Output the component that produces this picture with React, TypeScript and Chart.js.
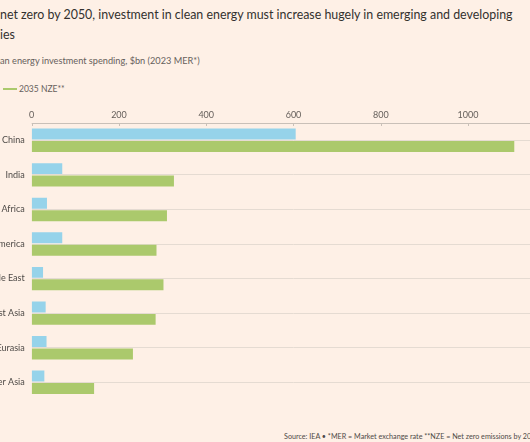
import React, { useEffect, useRef } from "react";
import { Chart, registerables } from "chart.js";
Chart.register(...registerables);

const categories = ["China", "India", "Africa", "Latin America", "Middle East", "Southeast Asia", "Eurasia", "Other Asia"];
const series2023 = [605, 70, 35, 70, 26, 32, 34, 29];
const series2035 = [1106, 326, 310, 286, 302, 284, 232, 143];
const seriesLabels = ["2023", "2035 NZE**"];
const xMin = 0;
const xMax = 1200;
const xStep = 200;

const BG = "#fef0e6";
const BLUE = "#96d3ea";
const GREEN = "#abc96c";
const TEXT = "#66605c";
const FONT = "Lato, 'Open Sans', sans-serif";
const HIDDEN_LEFT = 100;
const CANVAS_W = 700;
const CANVAS_H = 312;

const axisPlugin = {
  id: "topAxisLine",
  afterDraw(chart: any) {
    const { ctx, chartArea, scales } = chart;
    const x = scales.x;
    ctx.save();
    ctx.strokeStyle = "#c9c0b8";
    ctx.lineWidth = 1.2;
    ctx.beginPath();
    ctx.moveTo(chartArea.left, chartArea.top + 0.5);
    ctx.lineTo(chartArea.right, chartArea.top + 0.5);
    ctx.stroke();
    ctx.lineWidth = 1;
    x.ticks.forEach((t: any) => {
      const px = Math.round(x.getPixelForValue(t.value)) + 0.5;
      ctx.beginPath();
      ctx.moveTo(px, chartArea.top);
      ctx.lineTo(px, chartArea.top + 3);
      ctx.stroke();
    });
    ctx.restore();
  },
};

export default function App() {
  const ref = useRef<HTMLCanvasElement>(null);
  useEffect(() => {
    document.body.style.background = BG;
    const chart = new Chart(ref.current!, {
      type: "bar",
      data: {
        labels: categories,
        datasets: [
          { label: seriesLabels[0], data: series2023, backgroundColor: BLUE, barPercentage: 0.88, categoryPercentage: 0.72 },
          { label: seriesLabels[1], data: series2035, backgroundColor: GREEN, barPercentage: 0.88, categoryPercentage: 0.72 },
        ],
      },
      options: {
        indexAxis: "y",
        animation: false,
        responsive: false,
        devicePixelRatio: 1,
        layout: { padding: { left: 0, right: CANVAS_W - (HIDDEN_LEFT + 31.7 + 523.6), top: 0, bottom: 0 } },
        plugins: { legend: { display: false }, tooltip: { enabled: false } },
        scales: {
          x: {
            position: "top",
            min: xMin,
            max: xMax,
            ticks: { stepSize: xStep, padding: 3, color: TEXT, font: { family: FONT, size: 9 }, callback: (v: any) => String(v) },
            grid: { display: false, drawTicks: false, tickLength: 0 },
            border: { display: false },
            afterFit: (s: any) => { s.height = 23; },
          },
          y: {
            ticks: { padding: 7, color: "#4e4a47", font: { family: FONT, size: 9 } },
            grid: { color: "#e5dbd2", offset: false, drawTicks: false, tickLength: 0, lineWidth: 1 },
            border: { display: false },
            afterFit: (s: any) => { s.width = HIDDEN_LEFT + 31.7; },
          },
        },
      },
      plugins: [axisPlugin],
    });
    return () => chart.destroy();
  }, []);

  const hidden = (t: string) => (
    <span style={{ position: "absolute", right: "100%", whiteSpace: "pre" }}>{t}</span>
  );

  return (
    <div style={{ position: "fixed", left: 0, top: 0, width: 530, height: 442, overflow: "hidden", background: BG, fontFamily: FONT }}>
      <div style={{ position: "absolute", left: 0, top: 5, fontSize: 12.4, lineHeight: "20px", color: "#33302e", whiteSpace: "nowrap" }}>
        <div style={{ position: "relative" }}>{hidden("To reach ")}net zero by 2050, investment in clean energy must increase hugely in emerging and developing</div>
        <div style={{ position: "relative" }}>{hidden("econom")}ies</div>
      </div>
      <div style={{ position: "absolute", left: 0, top: 54, fontSize: 9.2, lineHeight: "14px", color: TEXT, whiteSpace: "nowrap" }}>
        <div style={{ position: "relative" }}>{hidden("Cle")}an energy investment spending, $bn (2023 MER*)</div>
      </div>
      <div style={{ position: "absolute", left: 3, top: 83, fontSize: 8.5, lineHeight: "12px", color: TEXT, whiteSpace: "nowrap", display: "flex", alignItems: "center" }}>
        <span style={{ position: "absolute", right: "100%", display: "flex", alignItems: "center", marginRight: 10 }}>
          <span style={{ display: "inline-block", width: 14, height: 2.5, background: BLUE, marginRight: 2 }} />
          <span>{seriesLabels[0]}</span>
        </span>
        <span style={{ display: "inline-block", width: 14, height: 2.5, background: GREEN, marginRight: 2 }} />
        <span>{seriesLabels[1]}</span>
      </div>
      <canvas
        ref={ref}
        width={CANVAS_W}
        height={CANVAS_H}
        style={{ position: "absolute", left: -HIDDEN_LEFT, top: 100, width: CANVAS_W, height: CANVAS_H }}
      />
      <div style={{ position: "absolute", left: 284, top: 432, fontSize: 7.2, lineHeight: "10px", color: "#4e4a47", whiteSpace: "nowrap" }}>
        Source: IEA • *MER = Market exchange rate **NZE = Net zero emissions by 2050
      </div>
    </div>
  );
}
